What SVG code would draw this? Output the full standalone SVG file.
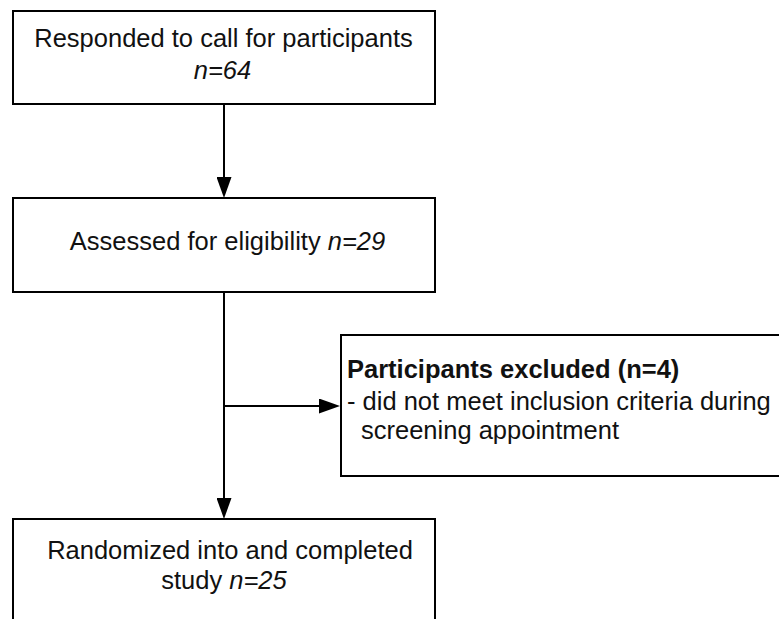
<svg xmlns="http://www.w3.org/2000/svg" width="779" height="619" viewBox="0 0 779 619">
<style>
.box{fill:#fff;stroke:#000;stroke-width:2}
.t{font-family:"Liberation Sans",Arial,sans-serif;font-size:25.5px;fill:#111}
.c{text-anchor:middle}
.i{font-style:italic}
.b{font-weight:bold}
.ln{fill:none;stroke:#000;stroke-width:2}
</style>
<defs>
<marker id="ah" viewBox="0 0 21 15" refX="11" refY="7.5" markerWidth="21" markerHeight="15" markerUnits="userSpaceOnUse" orient="auto">
<path d="M0,0 L21,7.5 L0,15 z" fill="#000"/>
</marker>
</defs>
<rect width="779" height="619" fill="#fff"/>
<g id="connectors">
<path class="ln" d="M224,104 L224,188" marker-end="url(#ah)"/>
<path class="ln" d="M224,292 L224,509" marker-end="url(#ah)"/>
<path class="ln" d="M224,406 L330,406" marker-end="url(#ah)"/>
</g>
<g id="n1">
<rect class="box" x="13" y="11" width="422" height="93"/>
<text class="t c" x="223.5" y="47">Responded to call for participants</text>
<text class="t c i" x="222.5" y="79">n=64</text>
</g>
<g id="n2">
<rect class="box" x="13" y="198" width="422" height="94"/>
<text class="t c" x="227.5" y="250">Assessed for eligibility <tspan class="i">n=29</tspan></text>
</g>
<g id="n3">
<rect class="box" x="341" y="335" width="460" height="141"/>
<text class="t b" x="347" y="378">Participants excluded (n=4)</text>
<text class="t" x="347" y="410">- did not meet inclusion criteria during</text>
<text class="t" x="361" y="439">screening appointment</text>
</g>
<g id="n4">
<rect class="box" x="13" y="519" width="422" height="120"/>
<text class="t c" x="230" y="559">Randomized into and completed</text>
<text class="t c" x="224" y="589">study <tspan class="i">n=25</tspan></text>
</g>
</svg>
